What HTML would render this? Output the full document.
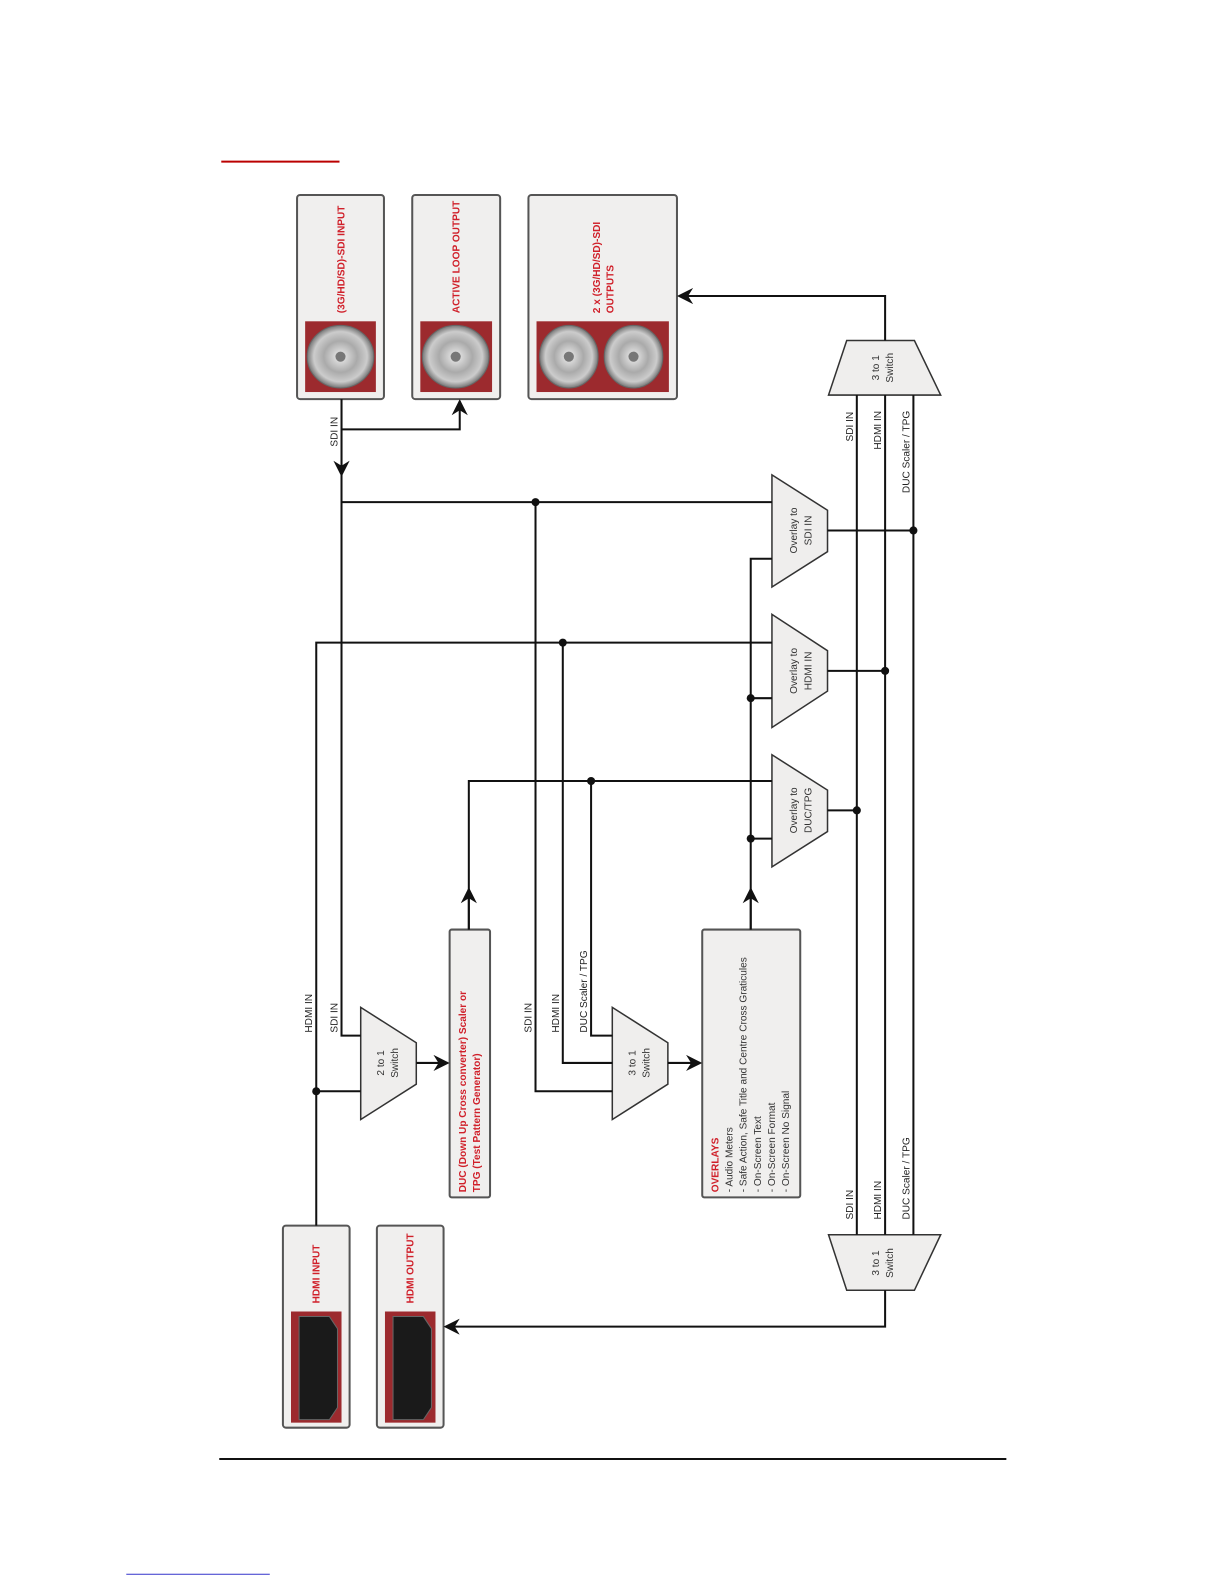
<!DOCTYPE html>
<html><head><meta charset="utf-8"><style>
html,body{margin:0;padding:0;background:#fff}
svg{display:block}
text{font-family:"Liberation Sans",sans-serif}
.l{font-size:10px;fill:#222}
.r{font-size:10px;fill:#d0202a;font-weight:bold}
.s{font-size:10px;fill:#333}
</style></head><body>
<svg width="1224" height="1584" viewBox="0 0 1224 1584" xmlns="http://www.w3.org/2000/svg">
<defs>
<marker id="a" markerWidth="20" markerHeight="20" refX="14" refY="8" orient="auto" markerUnits="userSpaceOnUse">
<path d="M0,0 L16,8 L0,16 L5,8 z" fill="#111"/>
</marker>
<radialGradient id="bnc" cx="50%" cy="50%" r="50%">
<stop offset="0" stop-color="#eee"/><stop offset="0.5" stop-color="#aaa"/><stop offset="0.8" stop-color="#ccc"/><stop offset="1" stop-color="#777"/>
</radialGradient>
</defs>
<g transform="scale(1.0104)">
<line x1="219" y1="160" x2="336" y2="160" stroke="#b00" stroke-width="2"/>
<line x1="217" y1="1444" x2="996" y2="1444" stroke="#111" stroke-width="2"/>
<line x1="125" y1="1558" x2="267" y2="1558" stroke="#33c" stroke-width="1"/>

<g stroke="#555" stroke-width="2" fill="#f0efee">
<rect x="294" y="193" width="86" height="202" rx="3"/>
<rect x="408" y="193" width="87" height="202" rx="3"/>
<rect x="523" y="193" width="147" height="202" rx="3"/>
<rect x="280" y="1213" width="66" height="200" rx="3"/>
<rect x="373" y="1213" width="66" height="200" rx="3"/>
<rect x="445" y="920" width="40" height="265" rx="2"/>
<rect x="695" y="920" width="97" height="265" rx="2"/>
</g>
<g fill="#9c2a2e">
<rect x="302" y="318" width="70" height="70"/>
<rect x="416" y="318" width="71" height="70"/>
<rect x="531" y="318" width="131" height="70"/>
<rect x="288" y="1298" width="50" height="110"/>
<rect x="381" y="1298" width="50" height="110"/>
</g>
<g fill="url(#bnc)" stroke="#666">
<ellipse cx="337" cy="353" rx="33" ry="31"/>
<ellipse cx="451" cy="353" rx="33" ry="31"/>
<ellipse cx="563" cy="353" rx="29" ry="31"/>
<ellipse cx="627" cy="353" rx="29" ry="31"/>
</g>
<g fill="#777"><circle cx="337" cy="353" r="5"/><circle cx="451" cy="353" r="5"/><circle cx="563" cy="353" r="5"/><circle cx="627" cy="353" r="5"/></g>
<g fill="#1a1a1a" stroke="#666">
<path d="M296,1303 h30 l8,12 v78 l-8,12 h-30 z"/>
<path d="M389,1303 h30 l8,12 v78 l-8,12 h-30 z"/>
</g>

<text class="r" transform="translate(341,310) rotate(-90)">(3G/HD/SD)-SDI INPUT</text>
<text class="r" transform="translate(455,310) rotate(-90)">ACTIVE LOOP OUTPUT</text>
<text class="r" transform="translate(594,310) rotate(-90)">2 x (3G/HD/SD)-SDI</text>
<text class="r" transform="translate(607,310) rotate(-90)">OUTPUTS</text>
<text class="r" transform="translate(316,1290) rotate(-90)">HDMI INPUT</text>
<text class="r" transform="translate(409,1290) rotate(-90)">HDMI OUTPUT</text>
<text class="r" transform="translate(461,1180) rotate(-90)">DUC (Down Up Cross converter) Scaler or</text>
<text class="r" transform="translate(475,1180) rotate(-90)">TPG (Test Pattern Generator)</text>
<text class="r" transform="translate(711,1180) rotate(-90)">OVERLAYS</text>
<text class="s" transform="translate(725,1180) rotate(-90)">- Audio Meters</text>
<text class="s" transform="translate(739,1180) rotate(-90)">- Safe Action, Safe Title and Centre Cross Graticules</text>
<text class="s" transform="translate(753,1180) rotate(-90)">- On-Screen Text</text>
<text class="s" transform="translate(767,1180) rotate(-90)">- On-Screen Format</text>
<text class="s" transform="translate(781,1180) rotate(-90)">- On-Screen No Signal</text>

<g stroke="#333" stroke-width="1.5" fill="#efeeed">
<polygon points="838,337 905,337 931,391 820,391"/>
<polygon points="820,1222 931,1222 905,1277 838,1277"/>
<polygon points="357,997 412,1032 412,1073 357,1108"/>
<polygon points="606,997 661,1032 661,1073 606,1108"/>
<polygon points="764,470 819,505 819,546 764,581"/>
<polygon points="764,608 819,644 819,684 764,720"/>
<polygon points="764,747 819,782 819,823 764,858"/>
</g>
<g class="s" text-anchor="middle">
<text transform="translate(870,364) rotate(-90)">3 to 1</text><text transform="translate(884,364) rotate(-90)">Switch</text>
<text transform="translate(870,1250) rotate(-90)">3 to 1</text><text transform="translate(884,1250) rotate(-90)">Switch</text>
<text transform="translate(380,1052) rotate(-90)">2 to 1</text><text transform="translate(394,1052) rotate(-90)">Switch</text>
<text transform="translate(629,1052) rotate(-90)">3 to 1</text><text transform="translate(643,1052) rotate(-90)">Switch</text>
<text transform="translate(789,525) rotate(-90)">Overlay to</text><text transform="translate(803,525) rotate(-90)">SDI IN</text>
<text transform="translate(789,664) rotate(-90)">Overlay to</text><text transform="translate(803,664) rotate(-90)">HDMI IN</text>
<text transform="translate(789,802) rotate(-90)">Overlay to</text><text transform="translate(803,802) rotate(-90)">DUC/TPG</text>
</g>

<g stroke="#111" stroke-width="2" fill="none">
<path d="M338,395 V1025 H357"/>
<path d="M338,395 V470" marker-end="url(#a)"/>
<path d="M338,425 H455 V397" marker-end="url(#a)"/>
<path d="M338,497 H764"/>
<path d="M530,497 V1080 H606"/>
<path d="M313,1213 V636 H764"/>
<path d="M557,636 V1052 H606"/>
<path d="M313,1080 H357"/>
<path d="M412,1052 H443" marker-end="url(#a)"/>
<path d="M661,1052 H693" marker-end="url(#a)"/>
<path d="M464,920 V773 H764"/>
<path d="M464,920 V880" marker-end="url(#a)"/>
<path d="M585,773 V1025 H606"/>
<path d="M743,920 V553 H764"/>
<path d="M743,920 V880" marker-end="url(#a)"/>
<path d="M743,691 H764 M743,830 H764"/>
<path d="M819,525 H904 M819,664 H876 M819,802 H848"/>
<path d="M848,391 V1222 M876,391 V1222 M904,391 V1222"/>
<path d="M876,337 V293 H672" marker-end="url(#a)"/>
<path d="M876,1277 V1313 H441" marker-end="url(#a)"/>
</g>
<g fill="#111">
<circle cx="530" cy="497" r="4"/><circle cx="557" cy="636" r="4"/><circle cx="585" cy="773" r="4"/>
<circle cx="313" cy="1080" r="4"/><circle cx="743" cy="691" r="4"/><circle cx="743" cy="830" r="4"/>
<circle cx="904" cy="525" r="4"/><circle cx="876" cy="664" r="4"/><circle cx="848" cy="802" r="4"/>
</g>

<g class="l">
<text transform="translate(334,442) rotate(-90)">SDI IN</text>
<text transform="translate(309,1022) rotate(-90)">HDMI IN</text>
<text transform="translate(334,1022) rotate(-90)">SDI IN</text>
<text transform="translate(526,1022) rotate(-90)">SDI IN</text>
<text transform="translate(553,1022) rotate(-90)">HDMI IN</text>
<text transform="translate(581,1022) rotate(-90)">DUC Scaler / TPG</text>
<text transform="translate(844,437) rotate(-90)">SDI IN</text>
<text transform="translate(872,445) rotate(-90)">HDMI IN</text>
<text transform="translate(900,488) rotate(-90)">DUC Scaler / TPG</text>
<text transform="translate(844,1207) rotate(-90)">SDI IN</text>
<text transform="translate(872,1207) rotate(-90)">HDMI IN</text>
<text transform="translate(900,1207) rotate(-90)">DUC Scaler / TPG</text>
</g>
</g>
</svg>
</body></html>
